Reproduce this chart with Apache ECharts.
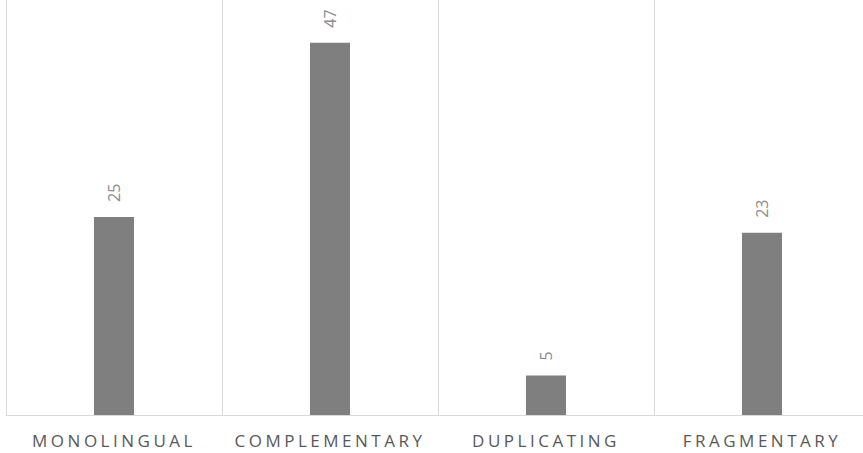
<!DOCTYPE html>
<html>
<head>
<meta charset="utf-8">
<script src="https://cdn.jsdelivr.net/npm/echarts@6/dist/echarts.min.js"></script>
<style>
html,body{margin:0;padding:0;background:#fff;}
#chart{width:863px;height:453px;}
#chart text[fill="#595959"]{letter-spacing:3.5px;}
</style>
</head>
<body>
<div id="chart"></div>
<script>
const categories = ['MONOLINGUAL', 'COMPLEMENTARY', 'DUPLICATING', 'FRAGMENTARY'];
const values = [25, 47, 5, 23];

const chart = echarts.init(document.getElementById('chart'), null, {renderer: 'svg'});
chart.setOption({
  animation: false,
  grid: {left: 6, width: 864, top: 0, bottom: 38, outerBoundsMode: 'none', containLabel: false},
  xAxis: {
    type: 'category',
    data: categories,
    axisLine: {lineStyle: {color: '#d9d9d9', width: 1}},
    axisTick: {show: false},
    splitLine: {show: true, lineStyle: {color: '#d9d9d9', width: 1}},
    axisLabel: {color: '#595959', fontSize: 17, fontFamily: 'Open Sans', margin: 17, interval: 0}
  },
  yAxis: {
    type: 'value',
    min: 0,
    max: 52.4,
    show: false,
    splitLine: {show: false}
  },
  series: [{
    type: 'bar',
    data: values,
    barWidth: 40,
    itemStyle: {color: '#7f7f7f'},
    label: {
      show: true,
      position: 'top',
      rotate: 90,
      align: 'left',
      verticalAlign: 'middle',
      distance: 15,
      color: '#8c8c8c',
      fontSize: 16,
      fontFamily: 'Open Sans'
    }
  }]
});
</script>
</body>
</html>
